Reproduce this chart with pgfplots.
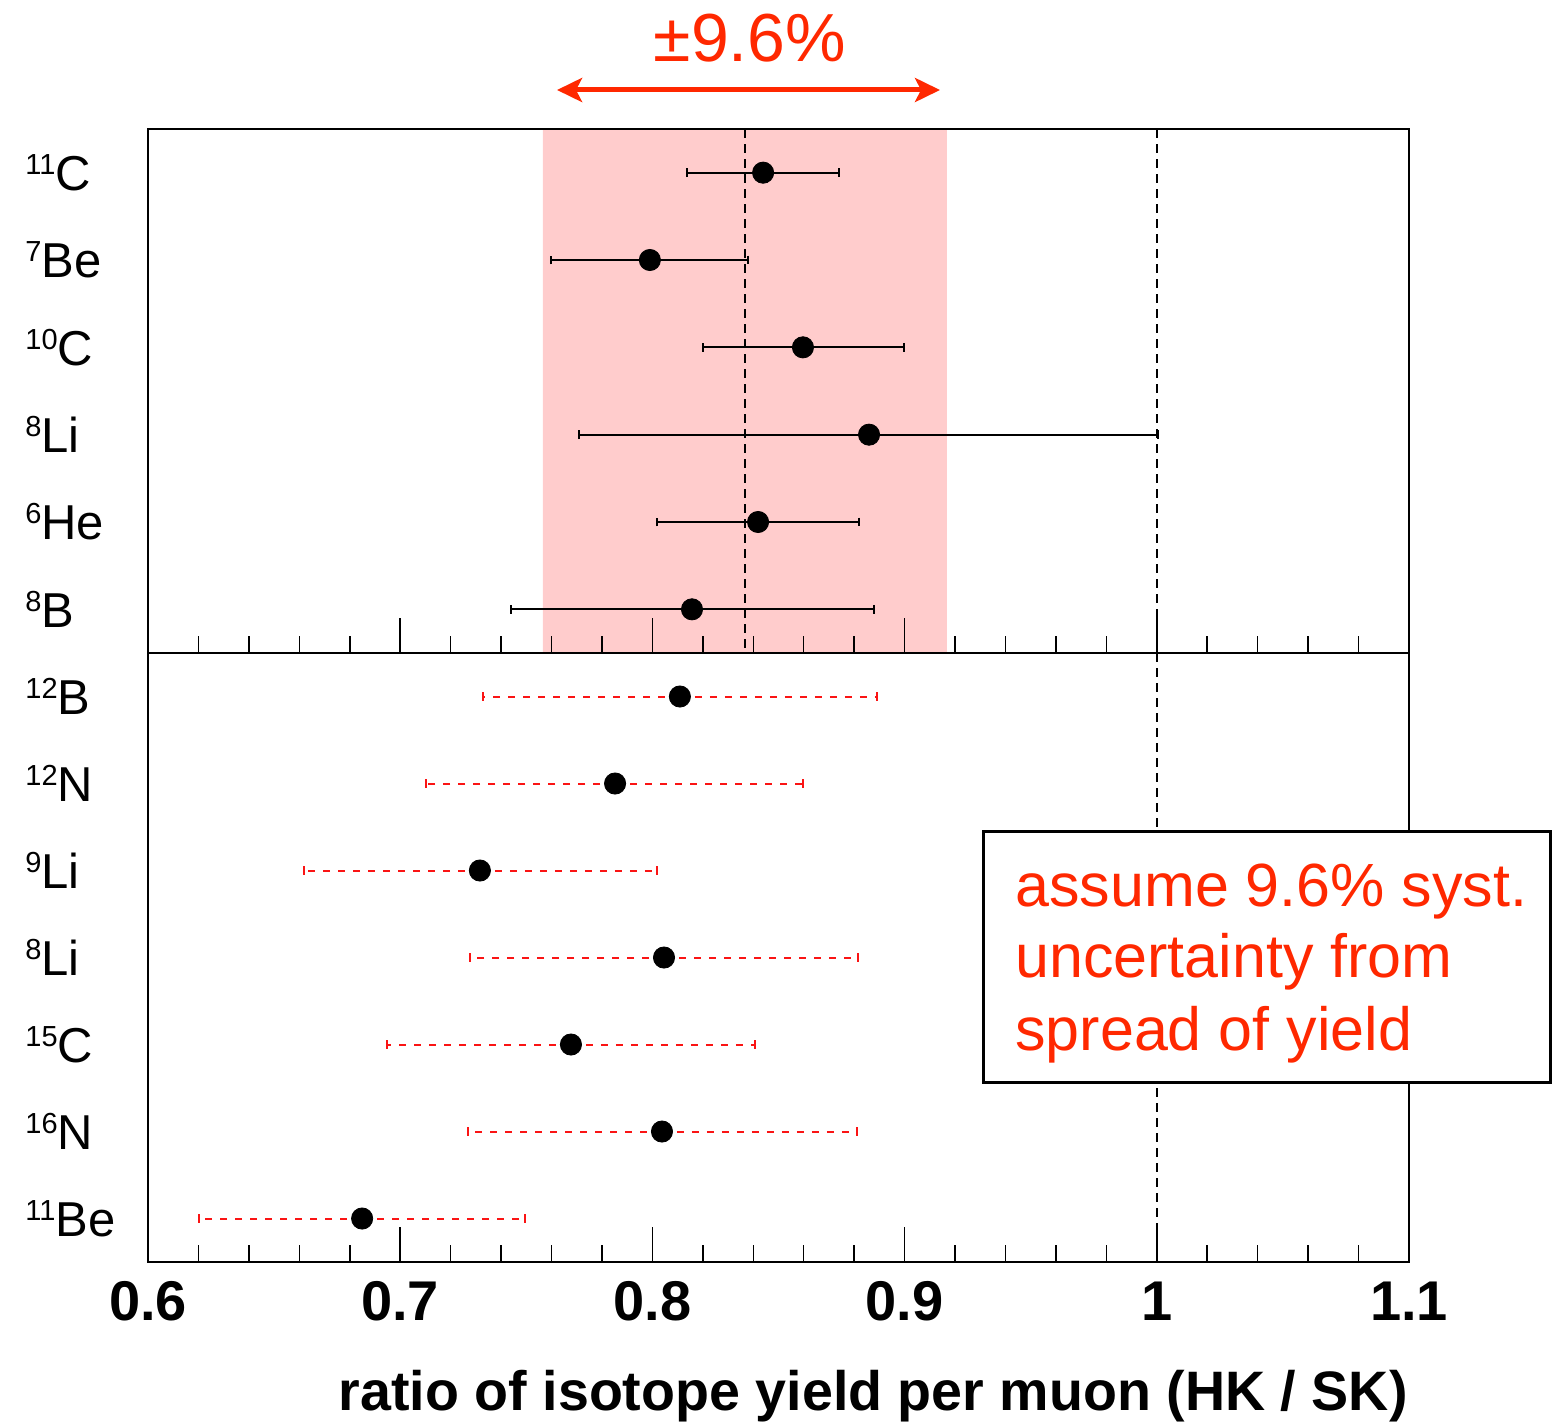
\documentclass[border=0pt]{standalone}
\usepackage{pgfplots}
\pgfplotsset{compat=1.18}
\usepackage{fontspec}
\setmainfont{Liberation Sans}
\usetikzlibrary{arrows.meta}
\definecolor{hlred}{RGB}{255,40,0}
\definecolor{bandpink}{RGB}{255,204,204}
\definecolor{errred}{RGB}{250,20,20}
\newcommand{\iso}[2]{{\fontsize{14.5}{14.5}\selectfont\raisebox{8pt}{#1}}#2}

\pgfplotstableread{
x y ep em
0.8439 1 0.0301 0.0302
0.7990 2 0.0389 0.0392
0.8597 3 0.0401 0.0397
0.8859 4 0.1146 0.1150
0.8419 5 0.0400 0.0401
0.8157 6 0.0722 0.0718
}\toptable

\pgfplotstableread{
x y ep em
0.8109 1 0.0781 0.0781
0.7852 2 0.0745 0.0750
0.7316 3 0.0702 0.0697
0.8046 4 0.0769 0.0769
0.7677 5 0.0730 0.0729
0.8038 6 0.0773 0.0769
0.6849 7 0.0646 0.0647
}\bottable

\pgfplotsset{
  common/.style={
    scale only axis, width=630.5pt,
    xmin=0.6, xmax=1.1, y dir=reverse,
    xtick={0.6,0.7,0.8,0.9,1,1.1}, minor x tick num=4,
    xtick pos=left, xtick align=inside,
    major tick length=17.5pt, minor tick length=8.5pt,
    ytick style={draw=none},
    yticklabel style={anchor=west, inner sep=0pt, xshift=-61.5pt, yshift=0pt,
      font=\fontsize{24.5}{24.5}\selectfont},
    axis line style={line width=1pt},
    every tick/.append style={black, line width=0.75pt},
    axis on top,
  }
}

\begin{document}
\begin{tikzpicture}
\useasboundingbox (0,0) rectangle (780.5pt,-711.5pt);

% top panel
\begin{axis}[common,
  at={(74pt,-64.5pt)}, anchor=north west, height=262pt,
  ymin=0.5, ymax=6.5,
  ytick={1,2,3,4,5,6},
  yticklabels={\iso{11}{C},\iso{7}{Be},\iso{10}{C},\iso{8}{Li},\iso{6}{He},\iso{8}{B}},
  xticklabels={,,,,,},
]
\addplot[fill=bandpink, draw=none] coordinates {(0.7566,0.5) (0.9168,0.5) (0.9168,6.5) (0.7566,6.5) (0.7566,0.5)};
\addplot[black, line width=1pt, dash pattern=on 4.5pt off 3pt] coordinates {(0.8367,0.5) (0.8367,6.5)};
\addplot[black, line width=1pt, dash pattern=on 4.5pt off 3pt] coordinates {(1,0.5) (1,6.5)};
\addplot[black, only marks, mark=*, mark size=5.3pt,
  error bars/.cd, x dir=both, x explicit, error mark=|,
  error bar style={line width=1pt, black, solid},
  error mark options={line width=1pt, mark size=2.2pt, black, solid}]
  table[x=x, y=y, x error plus=ep, x error minus=em] {\toptable};
\end{axis}

% bottom panel
\begin{axis}[common,
  at={(74pt,-326.5pt)}, anchor=north west, height=304.5pt,
  ymin=0.5, ymax=7.5,
  ytick={1,2,3,4,5,6,7},
  yticklabels={\iso{12}{B},\iso{12}{N},\iso{9}{Li},\iso{8}{Li},\iso{15}{C},\iso{16}{N},\iso{11}{Be}},
  xticklabels={0.6,0.7,0.8,0.9,1,1.1},
  xticklabel style={font=\bfseries\fontsize{28}{28}\selectfont, anchor=base, yshift=-29pt},
]
\addplot[black, line width=1pt, dash pattern=on 4.5pt off 3pt] coordinates {(1,0.5) (1,7.5)};
\addplot[errred, only marks, mark=*, mark size=5.3pt, mark options={black, fill=black},
  error bars/.cd, x dir=both, x explicit, error mark=|,
  error bar style={line width=1pt, draw=errred, dash pattern=on 3.5pt off 4pt},
  error mark options={line width=1pt, mark size=2.2pt, draw=errred, solid}]
  table[x=x, y=y, x error plus=ep, x error minus=em] {\bottable};
\end{axis}

% annotations
\node[anchor=base, inner sep=0pt, text=hlred, font=\fontsize{34}{34}\selectfont] at (375pt,-31pt) {±9.6\%};
\draw[hlred, line width=2.5pt, {Stealth[length=12.5pt,width=12pt,inset=3pt]}-{Stealth[length=12.5pt,width=12pt,inset=3pt]}] (278.5pt,-45pt) -- (470pt,-45pt);

\draw[black, line width=1.5pt, fill=white] (491.5pt,-415.5pt) rectangle (775pt,-541pt);
\node[anchor=base west, inner sep=0pt, text=hlred, font=\fontsize{30.5}{30.5}\selectfont] at (507.5pt,-453pt) {assume 9.6\% syst.};
\node[anchor=base west, inner sep=0pt, text=hlred, font=\fontsize{30.5}{30.5}\selectfont] at (507.5pt,-488.5pt) {uncertainty from};
\node[anchor=base west, inner sep=0pt, text=hlred, font=\fontsize{30.5}{30.5}\selectfont] at (507.5pt,-525pt) {spread of yield};

\node[anchor=base east, inner sep=0pt, font=\bfseries\fontsize{27.8}{27.8}\selectfont] at (704pt,-705pt) {ratio of isotope yield per muon (HK / SK)};
\end{tikzpicture}
\end{document}
